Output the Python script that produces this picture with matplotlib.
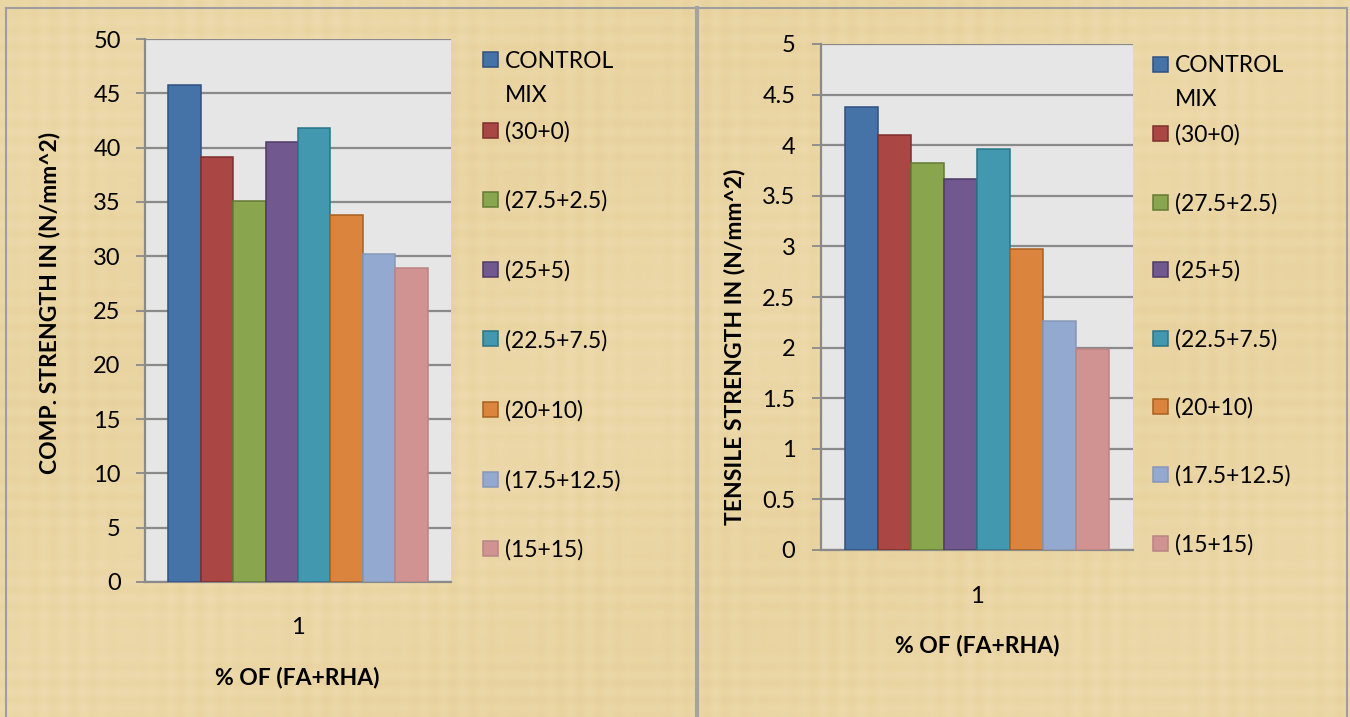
import matplotlib
matplotlib.use("Agg")
import matplotlib.pyplot as plt
from matplotlib.patches import Rectangle
from matplotlib.lines import Line2D
from matplotlib.colors import LinearSegmentedColormap
import numpy as np

# data
mixes = ["CONTROL\nMIX", "(30+0)", "(27.5+2.5)", "(25+5)", "(22.5+7.5)",
         "(20+10)", "(17.5+12.5)", "(15+15)"]
comp_strength = [45.8, 39.1, 35.1, 40.5, 41.8, 33.8, 30.2, 28.9]
tensile_strength = [4.38, 4.10, 3.82, 3.67, 3.96, 2.97, 2.26, 1.99]
category = ["1"]

fills = ["#4572A7", "#AA4643", "#89A54E", "#71588F", "#4198AF", "#DB843D", "#93A9CF", "#D19392"]
edges = ["#2F5180", "#7E2F2D", "#647A35", "#4E3A66", "#2A7488", "#A9601F", "#8798B8", "#B88584"]

W, H = 1350, 717
BG = "#EBD6A6"
GRID = "#8A8A8A"

plt.rcParams["font.family"] = ["Lato", "DejaVu Sans"]

fig = plt.figure(figsize=(W / 100, H / 100), dpi=100)
fig.patch.set_facecolor(BG)


def px_rect(x0, y0, x1, y1):
    return [x0 / W, 1 - y1 / H, (x1 - x0) / W, (y1 - y0) / H]


def fx(x):
    return x / W


def fy(y):
    return 1 - y / H


# faint papyrus-like fibres (deterministic pattern, not data)
bg_ax = fig.add_axes([0, 0, 1, 1], zorder=-10)
xx, yy = np.meshgrid(np.arange(W), np.arange(H))
tex = (0.35 * np.sin(xx / 3.1) * np.sin(xx / 41.0)
       + 0.35 * np.sin(yy / 2.7) * np.sin(yy / 29.0)
       + 0.3 * np.sin(xx / 170.0 + yy / 90.0))
pap = LinearSegmentedColormap.from_list("pap", ["#E2C98F", "#F2E1B8"])
bg_ax.imshow(tex, cmap=pap, aspect="auto", alpha=0.45, extent=[0, 1, 0, 1])
bg_ax.set_facecolor(BG)
bg_ax.axis("off")

# panel frames
fig.add_artist(Line2D([fx(6), fx(6)], [fy(8), fy(717)], color="#9E9E9E", lw=1.5))
fig.add_artist(Line2D([fx(6), fx(1347)], [fy(8), fy(8)], color="#9E9E9E", lw=1.5))
fig.add_artist(Line2D([fx(697), fx(697)], [fy(8), fy(717)], color="#A3A3A3", lw=3))
fig.add_artist(Line2D([fx(1347), fx(1347)], [fy(8), fy(717)], color="#9E9E9E", lw=1.5))


def draw_panel(rect, values, ymax, ystep, ylabel, ylab_xy, xlab_xy, legend_x, legend_ys, tick_pad, x_pad):
    ax = fig.add_axes(px_rect(*rect))
    ax.set_facecolor("#E6E6E6")
    bw = 0.106
    for i, v in enumerate(values):
        ax.bar(0 + (i - 3.5) * bw, v, width=bw, color=fills[i], edgecolor=edges[i],
               linewidth=1.1, zorder=3)
    ax.set_xlim(-0.5, 0.5)
    ax.set_ylim(0, ymax)
    ticks = np.arange(0, ymax + ystep / 2, ystep)
    ax.set_yticks(ticks)
    ax.set_yticklabels([("%g" % t) for t in ticks])
    ax.yaxis.grid(True, color=GRID, lw=1.6, zorder=1)
    ax.set_axisbelow(True)
    ax.set_xticks([0])
    ax.set_xticklabels(category)
    ax.tick_params(axis="x", length=0, pad=x_pad, labelsize=17)
    ax.tick_params(axis="y", length=6.5, width=1.3, color=GRID, pad=tick_pad, labelsize=17)
    for s in ["top", "right"]:
        ax.spines[s].set_visible(False)
    for s in ["left", "bottom"]:
        ax.spines[s].set_color(GRID)
        ax.spines[s].set_linewidth(1.6)

    fig.text(fx(ylab_xy[0]), fy(ylab_xy[1]), ylabel, rotation=90, ha="center", va="center",
             fontsize=16.5, fontweight="bold")
    fig.text(fx(xlab_xy[0]), fy(xlab_xy[1]), "% OF (FA+RHA)", ha="center", va="center",
             fontsize=16.5, fontweight="bold")

    # legend, Excel style: marker level with the first line of each entry
    for i, name in enumerate(mixes):
        yc = legend_ys[i]
        fig.add_artist(Rectangle((fx(legend_x), fy(yc + 7.5)), 15 / W, 15 / H,
                                 facecolor=fills[i], edgecolor=edges[i], lw=1.1,
                                 transform=fig.transFigure))
        for j, ln in enumerate(name.split("\n")):
            fig.text(fx(legend_x + 22), fy(yc + j * 34), ln, ha="left", va="center_baseline",
                     fontsize=16.5)
    return ax


left_legend_ys = [59, 130, 199, 269, 339, 409, 479, 548]
right_legend_ys = [64, 133, 202, 269, 338, 406, 474, 543]

draw_panel((145, 39, 451, 582), comp_strength, 50, 5, "COMP. STRENGTH IN (N/mm^2)",
           (50, 303), (297, 677), 483, left_legend_ys, 11, 25)
draw_panel((821, 44, 1133, 550), tensile_strength, 5, 0.5, "TENSILE STRENGTH IN (N/mm^2)",
           (735, 347), (977, 645), 1153, right_legend_ys, 12, 26)

fig.savefig("out.png", dpi=100, facecolor=BG)
